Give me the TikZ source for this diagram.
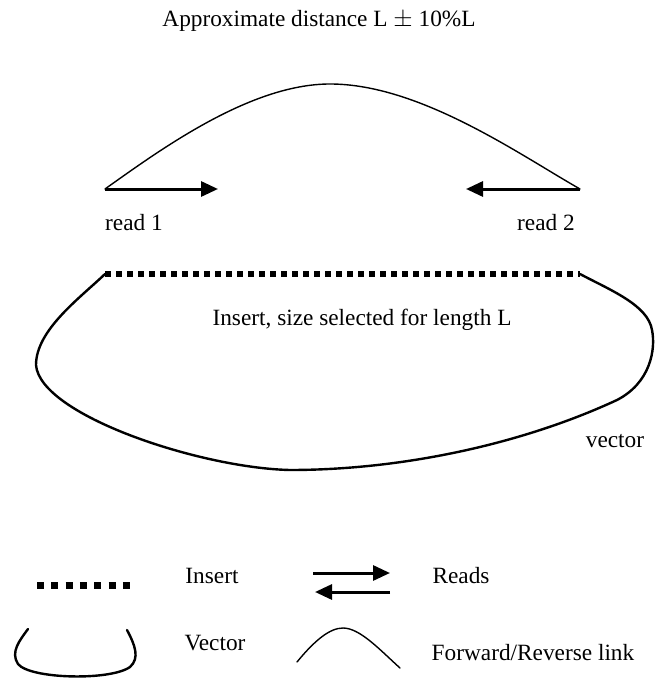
\documentclass[tikz,border=0pt]{standalone}
\usepackage{fontspec}
\setmainfont{Liberation Serif}
\usetikzlibrary{arrows.meta}
\begin{document}
\begin{tikzpicture}[x=1pt,y=-1pt,
  lbl/.style={anchor=base,inner sep=0pt,font=\fontsize{23.3}{27}\selectfont},
  linkline/.style={line width=1.4pt,line cap=round},
  vecline/.style={line width=2.4pt,line cap=round,line join=round},
  readarrow/.style={line width=3pt,-{Triangle[length=17pt,width=15pt]}},
  insertdots/.style={line width=6pt,dash pattern=on 6pt off 5pt},
  legdots/.style={line width=7pt,dash pattern=on 7pt off 7.3pt}]
\useasboundingbox (0,0) rectangle (654,679);

% title
\node[lbl] (title) at (319,27) {Approximate distance L $\pm$ 10\%L};

% read pair and their link
\coordinate (r1s) at (105,189);
\coordinate (r1e) at (218,189);
\coordinate (r2s) at (580,189);
\coordinate (r2e) at (466,189);
\coordinate (peak) at (330,84);
\draw[linkline] (r1s) .. controls (160,150) and (250,84) .. (peak)
  .. controls (420,84) and (520,155) .. (r2s);
\draw[readarrow] (r1s) -- (r1e);
\draw[readarrow] (r2s) -- (r2e);
\node[lbl] (read1) at (134,230) {read 1};
\node[lbl] (read2) at (546,230) {read 2};

% insert and vector loop
\coordinate (ins1) at (105,274);
\coordinate (ins2) at (580,274);
\draw[vecline] (ins1) .. controls (80,298) and (36,330) .. (36,365)
  .. controls (40,415) and (200,468) .. (290,470)
  .. controls (400,470) and (520,445) .. (617,400)
  .. controls (650,383) and (656,350) .. (652,330)
  .. controls (648,305) and (610,290) .. (ins2);
\draw[insertdots] (ins1) -- (ins2);
\node[lbl] (instext) at (362,325) {Insert, size selected for length L};
\node[lbl] (vectext) at (615,447) {vector};

% legend
\coordinate (ld1) at (37,585);
\coordinate (ld2) at (130,585);
\draw[legdots] (ld1) -- (ld2);
\node[lbl] (leginsert) at (212,583) {Insert};

\coordinate (la1) at (313,573);
\coordinate (la2) at (390,573);
\coordinate (lb1) at (390,592);
\coordinate (lb2) at (315,592);
\draw[readarrow] (la1) -- (la2);
\draw[readarrow] (lb1) -- (lb2);
\node[lbl] (legreads) at (461,583) {Reads};

\coordinate (lv1) at (28,629);
\coordinate (lv2) at (127,630);
\draw[vecline] (lv1) .. controls (20,640) and (10,652) .. (18,664)
  .. controls (30,679) and (110,681) .. (130,667)
  .. controls (140,658) and (135,645) .. (lv2);
\node[lbl] (legvector) at (215,650) {Vector};

\coordinate (ll1) at (297,662);
\coordinate (ll2) at (400,668);
\draw[linkline] (ll1) .. controls (315,640) and (330,628) .. (343,628)
  .. controls (360,628) and (380,650) .. (ll2);
\node[lbl] (leglink) at (533,660) {Forward/Reverse link};
\end{tikzpicture}
\end{document}
